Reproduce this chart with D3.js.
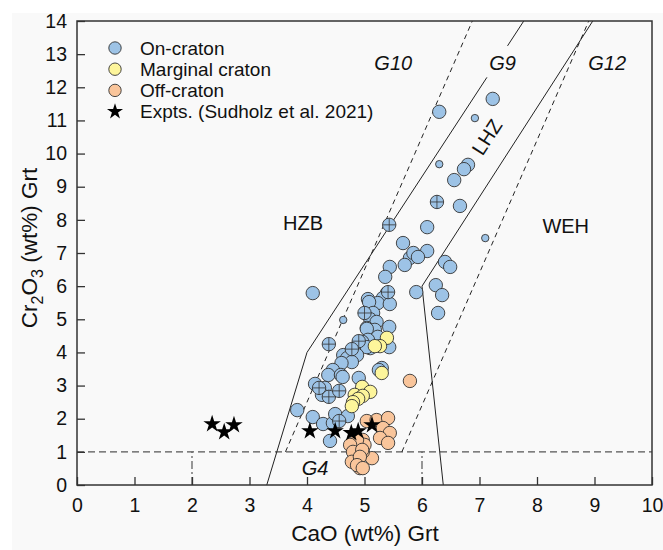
<!DOCTYPE html>
<html lang="en">
<head>
<meta charset="UTF-8">
<script src="https://cdn.jsdelivr.net/npm/d3@7"></script>
<style>
  body { margin: 0; background: #fff; }
  svg { display: block; font-family: "Liberation Sans", Arial, sans-serif; }
</style>
</head>
<body>
<script>
// CaO, Cr2O3 pairs
const onCraton = [
  [7.23,11.65],[6.30,11.26],[6.80,9.66],[6.73,9.53],[6.56,9.20],[6.66,8.42],[6.09,7.78],
  [5.67,7.30],[6.09,7.06],[5.79,6.85],[5.85,7.00],[5.93,6.88],[5.44,6.58],[5.70,6.64],
  [6.40,6.73],[6.49,6.58],[5.36,6.28],[5.90,5.82],[6.24,6.03],[6.35,5.73],[6.28,5.19],
  [4.10,5.79],[5.39,5.79],[5.32,5.64],[5.23,5.49],[5.44,5.46],[5.06,5.61],[5.08,5.52],
  [5.15,5.19],[5.10,5.00],[5.21,4.92],[5.43,4.77],[5.04,4.74],[5.18,4.68],[5.04,4.71],
  [5.23,4.47],[5.06,4.38],[5.43,4.16],[4.96,4.32],[5.10,4.13],[5.04,4.16],[4.63,3.92],
  [4.87,3.92],[4.70,3.83],[4.78,3.71],[4.60,3.68],[4.45,3.47],[4.37,3.32],[4.59,3.32],
  [4.62,3.26],[4.90,3.23],[5.30,3.53],[5.25,3.47],[4.14,3.05],[4.31,2.93],[4.26,2.72],
  [3.83,2.26],[4.10,2.05],[4.28,1.84],[4.45,1.87],[4.49,2.14],[4.71,2.08],[4.40,1.33]
];
const onCratonCross = [
  [6.26,8.54],[5.43,7.85],[5.41,5.82],[5.00,5.19],[4.38,4.25],[4.90,4.34],[4.78,4.10],
  [4.21,2.93],[4.38,2.66],[4.56,2.84],[4.56,1.93]
];
const onCratonSmall = [[6.92,11.07],[6.30,9.68],[7.10,7.45],[4.63,4.98]];
const marginal = [
  [5.39,4.44],[5.27,4.19],[5.18,4.19],[5.30,3.38],[4.96,2.96],[5.10,2.81],[4.83,2.72],
  [4.97,2.69],[4.89,2.60],[4.80,2.50],[4.78,2.38]
];
const offCraton = [
  [5.79,3.14],[5.04,1.93],[5.21,1.96],[5.41,2.02],[5.32,1.72],[5.44,1.57],[5.27,1.42],
  [5.41,1.27],[4.97,1.36],[5.00,1.21],[5.13,0.81],[4.87,1.36],[4.75,1.21],[4.80,1.00],
  [4.97,1.00],[4.96,1.06],[4.78,0.70],[4.92,0.85],[4.92,0.51],[4.87,0.60],[4.97,0.51]
];
const expts = [
  [2.35,1.84],[2.56,1.60],[2.73,1.81],[4.05,1.63],[4.49,1.63],[4.77,1.57],[4.89,1.63],[5.13,1.81]
];

// field boundaries
const hzbLine = [[3.3,0],[4.0,4.0],[7.77,14]];
const wehLine = [[6.37,0],[6.0,6.0],[8.97,14]];
const g10Line = [[3.625,1],[6.875,14]];
const g12Line = [[5.65,1],[8.9,14]];

const legendItems = [
  {label: "On-craton", fill: "#9dc3e6"},
  {label: "Marginal craton", fill: "#fdf59b"},
  {label: "Off-craton", fill: "#f9c59b"},
  {label: "Expts. (Sudholz et al. 2021)", star: true}
];

const W = 663, H = 550;
const svg = d3.select("body").append("svg").attr("width", W).attr("height", H);
svg.append("rect").attr("x", 12).attr("y", 13).attr("width", W - 12).attr("height", H - 13)
  .attr("fill", "#f9f9f9");

const x = d3.scaleLinear().domain([0, 10]).range([77, 652]);
const y = d3.scaleLinear().domain([0, 14]).range([485, 21]);

const line = d3.line().x(d => x(d[0])).y(d => y(d[1]));

// reference lines
svg.append("line").attr("x1", x(0)).attr("x2", x(10)).attr("y1", y(1)).attr("y2", y(1))
  .attr("stroke", "#555").attr("stroke-width", 1.2).attr("stroke-dasharray", "7,4");
[2, 6].forEach(v => {
  svg.append("line").attr("x1", x(v)).attr("x2", x(v)).attr("y1", y(0)).attr("y2", y(1))
    .attr("stroke", "#555").attr("stroke-width", 1.2).attr("stroke-dasharray", "8,3,2,3");
});
[g10Line, g12Line].forEach(l => {
  svg.append("path").attr("d", line(l)).attr("fill", "none").attr("stroke", "#222")
    .attr("stroke-width", 1).attr("stroke-dasharray", "5,4");
});
[hzbLine, wehLine].forEach(l => {
  svg.append("path").attr("d", line(l)).attr("fill", "none").attr("stroke", "#222")
    .attr("stroke-width", 1);
});

// field labels
const lab = svg.append("g").attr("font-size", 20).attr("fill", "#111").attr("text-anchor", "middle");
lab.append("rect").attr("x", x(7.4) - 18).attr("y", y(13.25)).attr("width", 36)
  .attr("height", y(12.3) - y(13.25)).attr("fill", "#f9f9f9");
[["G10", 5.5], ["G9", 7.4], ["G12", 9.22]].forEach(d => {
  lab.append("text").attr("x", x(d[1])).attr("y", y(12.73) + 7).attr("font-style", "italic").text(d[0]);
});
lab.append("text").attr("x", x(4.14)).attr("y", y(0.5) + 7).attr("font-style", "italic").text("G4");
lab.append("text").attr("x", x(3.93)).attr("y", y(7.9) + 7).text("HZB");
lab.append("text").attr("x", x(8.5)).attr("y", y(7.8) + 7).text("WEH");
lab.append("text").attr("transform", `translate(${x(7.13)},${y(10.5)}) rotate(-57)`)
  .attr("y", 7).text("LHZ");

// data
const dots = svg.append("g").attr("stroke", "#333").attr("stroke-width", 0.9);
function circles(data, r, fill) {
  dots.selectAll(null).data(data).enter().append("circle")
    .attr("cx", d => x(d[0])).attr("cy", d => y(d[1])).attr("r", r).attr("fill", fill);
}
circles(onCraton, 6.7, "#9dc3e6");
circles(onCratonSmall, 3.7, "#9dc3e6");
const cross = dots.selectAll(null).data(onCratonCross).enter().append("g")
  .attr("transform", d => `translate(${x(d[0])},${y(d[1])})`);
cross.append("circle").attr("r", 6.7).attr("fill", "#9dc3e6");
cross.append("path").attr("d", "M-6.7,0H6.7M0,-6.7V6.7").attr("stroke-width", 0.8);
circles(marginal, 6.7, "#fdf59b");
circles(offCraton, 6.7, "#f9c59b");

const star = d3.symbol().type(d3.symbolStar).size(95);
svg.append("g").selectAll("path").data(expts).enter().append("path")
  .attr("d", star).attr("fill", "#000")
  .attr("transform", d => `translate(${x(d[0])},${y(d[1])})`);

// axes
const ax = svg.append("g").attr("transform", `translate(0,${y(0)})`);
ax.call(d3.axisBottom(x).tickValues(d3.range(0.5, 10, 1)).tickSize(-4).tickFormat(""));
ax.call(d3.axisBottom(x).ticks(10).tickSize(-8).tickPadding(13));
const ay = svg.append("g").attr("transform", `translate(${x(0)},0)`);
ay.call(d3.axisLeft(y).tickValues(d3.range(0.5, 14, 1)).tickSize(-4).tickFormat(""));
ay.call(d3.axisLeft(y).ticks(14).tickSize(-8).tickPadding(10));
svg.selectAll(".domain").remove();
svg.selectAll(".tick line").attr("stroke", "#333").attr("stroke-width", 1.3);
svg.selectAll(".tick text").attr("font-size", 19.5).attr("fill", "#111")
  .attr("font-family", "'Liberation Sans', Arial, sans-serif");

svg.append("rect").attr("x", x(0)).attr("y", y(14)).attr("width", x(10) - x(0))
  .attr("height", y(0) - y(14)).attr("fill", "none").attr("stroke", "#333").attr("stroke-width", 1.5);

// axis titles
svg.append("text").attr("x", 365).attr("y", 541).attr("text-anchor", "middle")
  .attr("font-size", 22.5).attr("fill", "#111").text("CaO (wt%) Grt");
const yt = svg.append("text").attr("transform", `translate(37,${y(7.15)}) rotate(-90)`)
  .attr("text-anchor", "middle").attr("font-size", 22.5).attr("fill", "#111");
yt.append("tspan").text("Cr");
yt.append("tspan").attr("font-size", 16).attr("dy", 6).text("2");
yt.append("tspan").attr("dy", -6).text("O");
yt.append("tspan").attr("font-size", 16).attr("dy", 6).text("3");
yt.append("tspan").attr("dy", -6).text(" (wt%) Grt");

// legend
const lg = svg.append("g").selectAll("g").data(legendItems).enter().append("g")
  .attr("transform", (d, i) => `translate(115,${48 + i * 21.2})`);
lg.filter(d => !d.star).append("circle").attr("r", 6.2).attr("fill", d => d.fill)
  .attr("stroke", "#333").attr("stroke-width", 0.9);
lg.filter(d => d.star).append("path").attr("d", d3.symbol().type(d3.symbolStar).size(80)).attr("fill", "#000");
lg.append("text").attr("x", 25).attr("y", 6.5).attr("font-size", 19).attr("fill", "#111").text(d => d.label);
</script>
</body>
</html>
